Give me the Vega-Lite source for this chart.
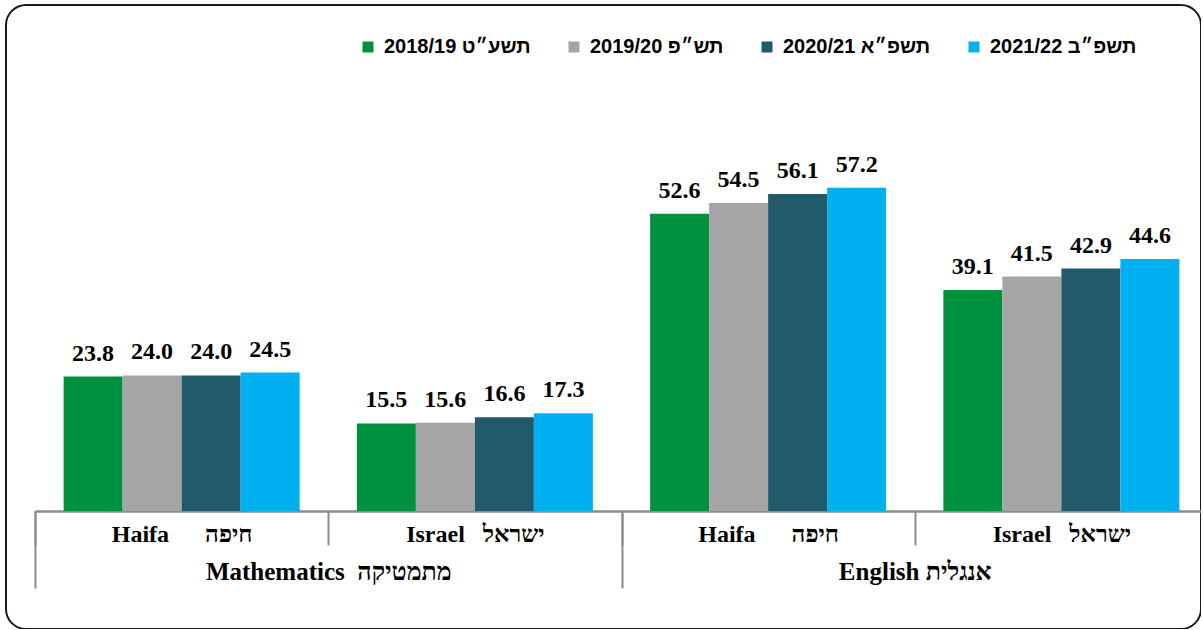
{
  "$schema": "https://vega.github.io/schema/vega-lite/v6.json",
  "width": 1195,
  "height": 624,
  "autosize": {"type": "none"},
  "padding": {"left": 6, "top": 5, "right": 0, "bottom": 0},
  "background": "#ffffff",
  "config": {
    "view": {"stroke": "#1a1a1a", "strokeWidth": 2, "cornerRadius": 20}
  },
  "data": {
    "values": [
      {"subject": "Math", "group": "M-H", "year": "2018/19 תשע״ט", "value": 23.8},
      {"subject": "Math", "group": "M-H", "year": "2019/20 תש״פ", "value": 24.0},
      {"subject": "Math", "group": "M-H", "year": "2020/21 תשפ״א", "value": 24.0},
      {"subject": "Math", "group": "M-H", "year": "2021/22 תשפ״ב", "value": 24.5},
      {"subject": "Math", "group": "M-I", "year": "2018/19 תשע״ט", "value": 15.5},
      {"subject": "Math", "group": "M-I", "year": "2019/20 תש״פ", "value": 15.6},
      {"subject": "Math", "group": "M-I", "year": "2020/21 תשפ״א", "value": 16.6},
      {"subject": "Math", "group": "M-I", "year": "2021/22 תשפ״ב", "value": 17.3},
      {"subject": "English", "group": "E-H", "year": "2018/19 תשע״ט", "value": 52.6},
      {"subject": "English", "group": "E-H", "year": "2019/20 תש״פ", "value": 54.5},
      {"subject": "English", "group": "E-H", "year": "2020/21 תשפ״א", "value": 56.1},
      {"subject": "English", "group": "E-H", "year": "2021/22 תשפ״ב", "value": 57.2},
      {"subject": "English", "group": "E-I", "year": "2018/19 תשע״ט", "value": 39.1},
      {"subject": "English", "group": "E-I", "year": "2019/20 תש״פ", "value": 41.5},
      {"subject": "English", "group": "E-I", "year": "2020/21 תשפ״א", "value": 42.9},
      {"subject": "English", "group": "E-I", "year": "2021/22 תשפ״ב", "value": 44.6}
    ]
  },
  "layer": [
    {
      "encoding": {
        "x": {
          "field": "group",
          "type": "nominal",
          "sort": ["M-H", "M-I", "E-H", "E-I"],
          "scale": {"range": [29, 1202], "paddingInner": 0, "paddingOuter": 0},
          "axis": {
            "orient": "bottom",
            "offset": -118,
            "title": null,
            "labelAngle": 0,
            "labelExpr": "datum.value == 'M-H' || datum.value == 'E-H' ? 'Haifa\u00a0\u00a0\u00a0\u00a0\u00a0\u00a0חיפה' : (datum.value == 'M-I' || datum.value == 'E-I' ? 'Israel\u00a0\u00a0\u00a0ישראל' : '')",
            "labelFont": "Liberation Serif, DejaVu Sans",
            "labelFontWeight": "bold",
            "labelFontSize": 24,
            "labelColor": "#000000",
            "labelBaseline": "alphabetic",
            "labelPadding": -4,
            "labelLimit": 0,
            "labelOverlap": false,
            "labelFlush": false,
            "labelBound": false,
            "tickBand": "extent",
            "tickSize": 34,
            "tickColor": "#8c8c8c",
            "tickWidth": 2,
            "domainColor": "#8c8c8c",
            "domainWidth": 2.5
          }
        },
        "xOffset": {
          "field": "year",
          "type": "nominal",
          "sort": ["2018/19 תשע״ט", "2019/20 תש״פ", "2020/21 תשפ״א", "2021/22 תשפ״ב"],
          "scale": {"paddingInner": 0, "paddingOuter": 0.485}
        },
        "y": {
          "field": "value",
          "type": "quantitative",
          "scale": {"domain": [0, 60], "range": [506, 167], "nice": false, "zero": true},
          "axis": null
        }
      },
      "layer": [
        {
          "mark": {"type": "bar"},
          "encoding": {
            "color": {
              "field": "year",
              "type": "nominal",
              "scale": {
                "domain": ["2018/19 תשע״ט", "2019/20 תש״פ", "2020/21 תשפ״א", "2021/22 תשפ״ב"],
                "range": ["#00913F", "#A5A5A5", "#215A6B", "#00B0F0"]
              },
              "legend": {
                "title": null,
                "orient": "none",
                "legendX": 352,
                "legendY": 32,
                "direction": "horizontal",
                "columns": 4,
                "columnPadding": 33,
                "padding": 0,
                "symbolType": "square",
                "symbolSize": 121,
                "symbolStrokeWidth": 0,
                "symbolOpacity": 1,
                "labelFont": "Liberation Sans, DejaVu Sans",
                "labelFontWeight": "bold",
                "labelFontSize": 20,
                "labelColor": "#000000",
                "labelOffset": 6,
                "labelLimit": 0
              }
            }
          }
        },
        {
          "mark": {
            "type": "text",
            "font": "Liberation Serif",
            "fontWeight": "bold",
            "fontSize": 24,
            "baseline": "alphabetic",
            "dy": -16,
            "color": "#000000"
          },
          "encoding": {
            "text": {"field": "value", "type": "quantitative", "format": ".1f"}
          }
        }
      ]
    },
    {
      "mark": {"type": "text", "text": " "},
      "encoding": {
        "x": {
          "field": "subject",
          "type": "nominal",
          "sort": ["Math", "English"],
          "scale": {"range": [29, 1202], "paddingInner": 0, "paddingOuter": 0},
          "axis": {
            "orient": "bottom",
            "offset": -118,
            "title": null,
            "labelAngle": 0,
            "labelExpr": "datum.value == 'Math' ? 'Mathematics\u00a0\u00a0מתמטיקה' : (datum.value == 'English' ? 'English\u00a0אנגלית' : '')",
            "labelFont": "Liberation Serif, DejaVu Sans",
            "labelFontWeight": "bold",
            "labelFontSize": 25,
            "labelColor": "#000000",
            "labelBaseline": "alphabetic",
            "labelPadding": -9,
            "labelLimit": 0,
            "labelOverlap": false,
            "labelFlush": false,
            "labelBound": false,
            "tickBand": "extent",
            "tickSize": 77,
            "tickColor": "#8c8c8c",
            "tickWidth": 2,
            "domain": false
          }
        }
      }
    }
  ],
  "resolve": {"scale": {"x": "independent"}, "axis": {"x": "independent"}}
}
